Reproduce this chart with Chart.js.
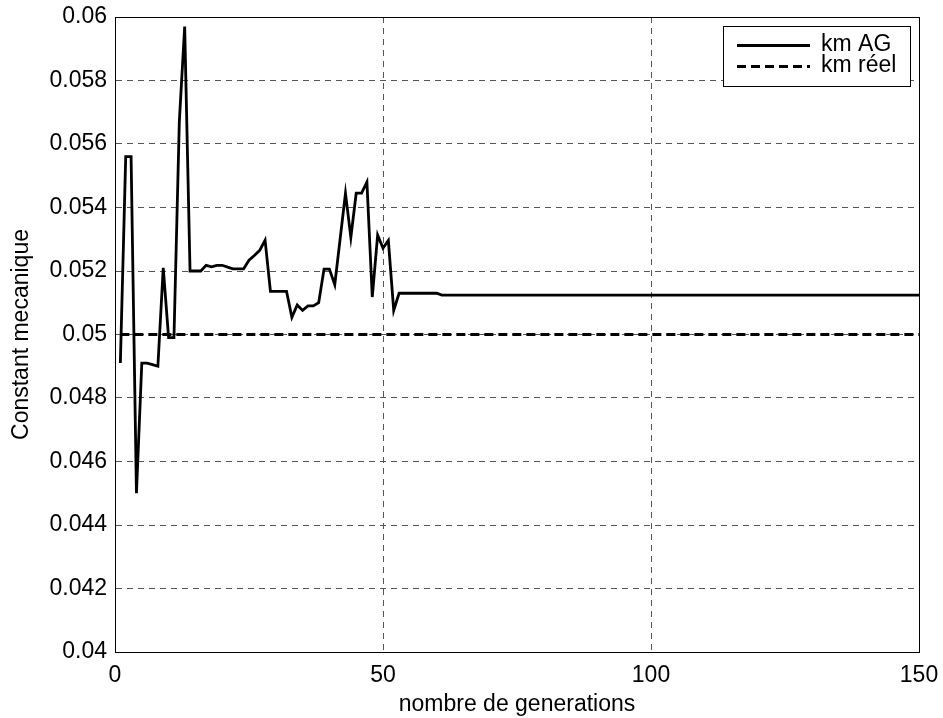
<!DOCTYPE html>
<html>
<head>
<meta charset="utf-8">
<script src="https://cdn.jsdelivr.net/npm/chart.js@4/dist/chart.umd.min.js"></script>
<style>
  html, body { margin: 0; padding: 0; background: #fff; }
  #wrap { position: relative; width: 943px; height: 718px; }
</style>
</head>
<body>
<div id="wrap"><canvas id="c" width="943" height="718"></canvas></div>
<script>
// ---- data ----
const generations = [1,2,3,4,5,6,7,8,9,10,11,12,13,14,15,16,17,18,19,20,21,22,23,24,25,26,27,28,29,30,31,32,33,34,35,36,37,38,39,40,41,43,44,45,46,47,48,49,50,51,52,53,60,61,150];
const kmAG = [0.0491,0.0556,0.0556,0.0450,0.0491,0.0491,0.04905,0.0490,0.0521,0.0499,0.0499,0.0567,0.0597,0.0520,0.0520,0.0520,0.05218,0.05213,0.05218,0.05218,0.05212,0.05207,0.05207,0.05207,0.05234,0.05249,0.05265,0.05297,0.05136,0.05136,0.05136,0.05136,0.05054,0.05093,0.05076,0.0509,0.0509,0.0510,0.05206,0.05206,0.05157,0.05445,0.05306,0.05445,0.05445,0.0548,0.05118,0.05313,0.05272,0.05296,0.05076,0.0513,0.0513,0.05124,0.05124];
const reelGenerations = [1, 150];
const kmReel = [0.05, 0.05];
const seriesLabels = ['km AG', 'km réel'];
const xTicks = [0, 50, 100, 150];
const xTickLabels = ['0', '50', '100', '150'];
const yTicks = [0.04,0.042,0.044,0.046,0.048,0.05,0.052,0.054,0.056,0.058,0.06];
const yTickLabels = ['0.04','0.042','0.044','0.046','0.048','0.05','0.052','0.054','0.056','0.058','0.06'];
const xTitle = 'nombre de generations';
const yTitle = 'Constant mecanique';

const FONT = '"Liberation Sans", Arial, sans-serif';
const FS = 23;

const framePlugin = {
  id: 'frame',
  afterDraw(chart) {
    const ctx = chart.ctx, a = chart.chartArea;
    ctx.save();
    ctx.strokeStyle = '#000';
    ctx.lineWidth = 1;
    ctx.setLineDash([]);
    ctx.strokeRect(Math.round(a.left) + 0.5, Math.round(a.top) + 0.5, Math.round(a.right - a.left), Math.round(a.bottom - a.top));
    // legend box
    const L = { left: 723, top: 26, right: 910, bottom: 86 };
    ctx.fillStyle = '#fff';
    ctx.fillRect(L.left, L.top, L.right - L.left, L.bottom - L.top);
    ctx.strokeRect(L.left + 0.5, L.top + 0.5, L.right - L.left, L.bottom - L.top);
    const rows = [45, 66];
    chart.data.datasets.forEach((ds, i) => {
      ctx.beginPath();
      ctx.strokeStyle = ds.borderColor;
      ctx.lineWidth = ds.borderWidth;
      ctx.setLineDash(ds.borderDash || []);
      ctx.moveTo(737, rows[i] + 0.5);
      ctx.lineTo(810, rows[i] + 0.5);
      ctx.stroke();
      ctx.setLineDash([]);
      ctx.fillStyle = '#000';
      ctx.font = FS + 'px ' + FONT;
      ctx.textBaseline = 'middle';
      ctx.textAlign = 'left';
      ctx.fillText(ds.label, 821, rows[i]);
    });
    ctx.restore();
  }
};

const chart = new Chart(document.getElementById('c'), {
  type: 'line',
  data: {
    datasets: [
      {
        label: seriesLabels[0],
        data: generations.map((g, i) => ({ x: g, y: kmAG[i] })),
        borderColor: '#000',
        borderWidth: 2.8,
        pointRadius: 0,
        tension: 0,
        fill: false
      },
      {
        label: seriesLabels[1],
        data: reelGenerations.map((g, i) => ({ x: g, y: kmReel[i] })),
        borderColor: '#000',
        borderWidth: 2.8,
        borderDash: [9, 5],
        pointRadius: 0,
        tension: 0,
        fill: false
      }
    ]
  },
  options: {
    responsive: false,
    devicePixelRatio: 1,
    animation: false,
    layout: { padding: { left: 0, top: 17, right: 24, bottom: 0 } },
    plugins: { legend: { display: false }, tooltip: { enabled: false } },
    scales: {
      x: {
        type: 'linear',
        min: 0, max: 150,
        afterBuildTicks: (s) => { s.ticks = xTicks.map(v => ({ value: v })); },
        afterFit: (s) => { s.height = 66; s.paddingLeft = 0; s.paddingRight = 0; },
        ticks: {
          color: '#000',
          font: { family: FONT, size: FS },
          padding: 10,
          maxRotation: 0,
          callback: (v, i) => xTickLabels[i]
        },
        grid: { color: '#555', lineWidth: 1, drawTicks: false },
        border: { display: true, color: '#000', width: 1, dash: [6, 5] },
        title: { display: true, text: xTitle, color: '#000', font: { family: FONT, size: FS }, padding: { top: 0, bottom: 0 } }
      },
      y: {
        type: 'linear',
        min: 0.04, max: 0.06,
        afterBuildTicks: (s) => { s.ticks = yTicks.map(v => ({ value: v })); },
        afterFit: (s) => { s.width = 115; s.paddingTop = 0; s.paddingBottom = 0; },
        ticks: {
          color: '#000',
          font: { family: FONT, size: FS, lineHeight: 1 },
          padding: 8,
          callback: (v, i) => yTickLabels[i]
        },
        grid: { color: '#555', lineWidth: 1, drawTicks: false },
        border: { display: true, color: '#000', width: 1, dash: [6, 5] },
        title: { display: true, text: yTitle, color: '#000', font: { family: FONT, size: FS }, padding: { top: 8, bottom: 0 } }
      }
    }
  },
  plugins: [framePlugin]
});
</script>
</body>
</html>
